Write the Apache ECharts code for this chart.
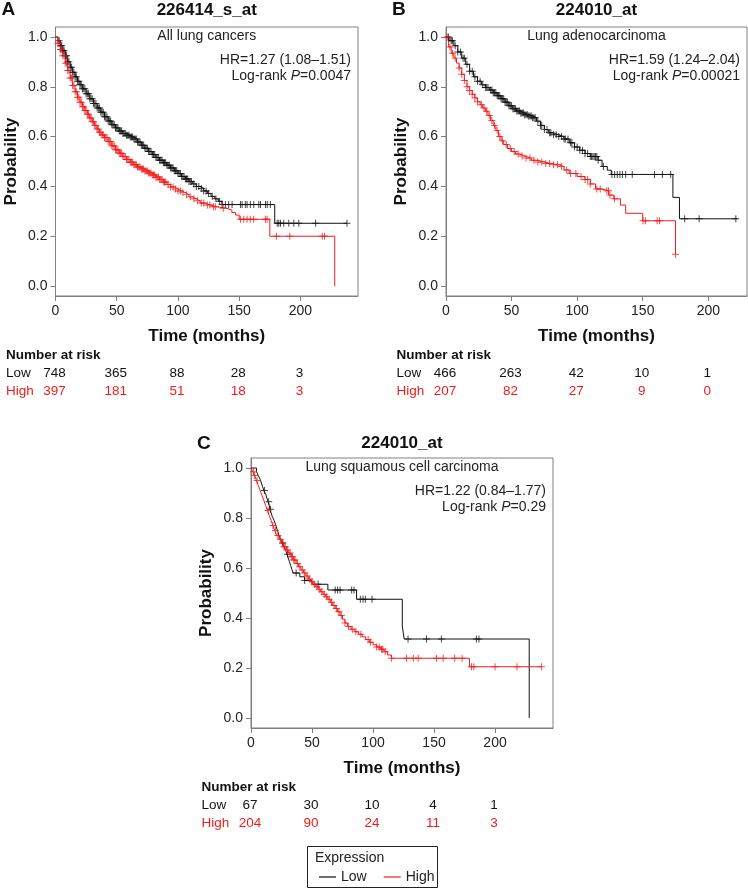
<!DOCTYPE html>
<html><head><meta charset="utf-8">
<script src="https://cdn.jsdelivr.net/npm/echarts@6/dist/echarts.min.js"></script>
<style>html,body{margin:0;padding:0;background:#fff}#c{width:748px;height:889px}</style>
</head><body><div id="c"></div><script>
// ---------------- data ----------------
const timeTicks = [0, 50, 100, 150, 200];
const probTicks = [0, 0.2, 0.4, 0.6, 0.8, 1.0];
const panelLetters = ['A', 'B', 'C'];
const panelTitles = ['226414_s_at', '224010_at', '224010_at'];
const cohorts = ['All lung cancers', 'Lung adenocarcinoma', 'Lung squamous cell carcinoma'];
const hrTexts = ['HR=1.27 (1.08\u20131.51)', 'HR=1.59 (1.24\u20132.04)', 'HR=1.22 (0.84\u20131.77)'];
const pValues = ['0.0047', '0.00021', '0.29'];
const groupNames = ['Low', 'High'];

const riskLowA = [748, 365, 88, 28, 3];
const riskHighA = [397, 181, 51, 18, 3];
const riskLowB = [466, 263, 42, 10, 1];
const riskHighB = [207, 82, 27, 9, 0];
const riskLowC = [67, 30, 10, 4, 1];
const riskHighC = [204, 90, 24, 11, 3];

// Kaplan-Meier steps: [time (months), survival probability from that time on]
const kmLowA = [[0,1],[2,0.985],[4,0.965],[6,0.945],[8,0.925],[10,0.9],[12,0.878],[14,0.858],[16,0.84],[18,0.822],[20,0.808],[22,0.792],[25,0.772],[28,0.752],[31,0.733],[34,0.715],[37,0.698],[40,0.68],[43,0.663],[46,0.648],[49,0.635],[52,0.622],[55,0.612],[58,0.605],[61,0.598],[64,0.59],[67,0.578],[70,0.565],[73,0.553],[76,0.54],[79,0.528],[82,0.516],[85,0.505],[88,0.495],[91,0.485],[94,0.474],[97,0.463],[100,0.452],[103,0.44],[106,0.43],[109,0.42],[112,0.41],[115,0.4],[118,0.392],[121,0.382],[124,0.372],[127,0.36],[130,0.35],[133,0.34],[136,0.327],[179,0.252],[238,0.252]];
const kmHighA = [[0,1],[2,0.975],[4,0.95],[6,0.925],[8,0.895],[10,0.865],[12,0.835],[14,0.805],[16,0.78],[18,0.758],[20,0.738],[22,0.72],[24,0.705],[26,0.69],[28,0.675],[30,0.66],[32,0.645],[34,0.63],[36,0.617],[38,0.606],[40,0.596],[43,0.58],[46,0.563],[49,0.547],[52,0.533],[55,0.52],[58,0.508],[61,0.497],[64,0.487],[67,0.478],[70,0.47],[73,0.462],[76,0.454],[79,0.446],[82,0.437],[85,0.428],[88,0.418],[91,0.408],[94,0.398],[97,0.39],[100,0.382],[103,0.375],[106,0.367],[109,0.358],[112,0.35],[115,0.342],[118,0.333],[122,0.325],[127,0.318],[132,0.312],[140,0.305],[144,0.295],[147,0.285],[150,0.268],[175,0.2],[228,0]];
const kmLowB = [[0,1],[3,0.985],[6,0.965],[9,0.94],[12,0.915],[15,0.89],[18,0.862],[21,0.84],[24,0.822],[27,0.808],[30,0.797],[33,0.787],[36,0.776],[39,0.764],[42,0.752],[45,0.738],[48,0.724],[51,0.712],[54,0.703],[57,0.695],[60,0.688],[63,0.683],[66,0.676],[69,0.662],[72,0.645],[75,0.628],[78,0.615],[82,0.607],[86,0.6],[90,0.59],[94,0.575],[98,0.558],[102,0.545],[106,0.532],[110,0.52],[116,0.505],[119,0.48],[123,0.465],[126,0.448],[173,0.356],[178,0.27],[222,0.27]];
const kmHighB = [[0,1],[2,0.96],[4,0.935],[6,0.915],[8,0.895],[10,0.875],[12,0.85],[14,0.825],[16,0.8],[18,0.785],[20,0.77],[22,0.755],[24,0.74],[26,0.728],[28,0.715],[30,0.702],[32,0.685],[34,0.665],[36,0.645],[38,0.625],[40,0.6],[42,0.583],[44,0.568],[47,0.552],[50,0.54],[53,0.53],[56,0.522],[60,0.514],[65,0.505],[70,0.498],[75,0.492],[80,0.487],[86,0.48],[90,0.466],[94,0.452],[100,0.44],[106,0.428],[110,0.41],[114,0.39],[118,0.383],[124,0.365],[128,0.35],[133,0.325],[137,0.292],[150,0.262],[175,0.128]];
const kmLowC = [[0,1],[4.5,0.985],[6,0.97],[7.5,0.955],[8.5,0.94],[9.5,0.925],[10.5,0.91],[12,0.895],[13,0.88],[14,0.865],[15,0.85],[15.5,0.835],[16.5,0.82],[17.5,0.805],[19,0.79],[20,0.775],[21,0.76],[22,0.745],[23,0.73],[24,0.715],[25.5,0.7],[27,0.685],[28.5,0.67],[29.5,0.655],[30.5,0.64],[31.5,0.625],[32.5,0.61],[33.5,0.595],[34.5,0.58],[40,0.565],[44,0.55],[50,0.535],[63,0.512],[86.5,0.475],[124,0.368],[125.5,0.316],[228,0]];
const kmHighC = [[0,1],[1.5,0.985],[3,0.97],[4.5,0.95],[6,0.93],[7.5,0.91],[9,0.89],[10.5,0.87],[12,0.85],[13.5,0.83],[15,0.81],[16.5,0.79],[18,0.77],[19.5,0.75],[21,0.73],[23,0.715],[25,0.7],[27,0.685],[29,0.672],[31,0.66],[33,0.645],[35,0.632],[37,0.618],[39,0.605],[41,0.592],[43,0.58],[45,0.568],[47,0.556],[49,0.545],[51,0.535],[53,0.525],[55,0.515],[57,0.505],[59,0.495],[61,0.485],[63,0.475],[65,0.463],[67,0.45],[69,0.438],[71,0.425],[73,0.41],[75,0.395],[77,0.38],[79,0.366],[82,0.355],[85,0.345],[88,0.335],[91,0.325],[94,0.314],[97,0.303],[100,0.293],[103,0.284],[106,0.275],[109,0.265],[112,0.252],[115,0.239],[179,0.205],[238,0.205]];

// censoring times (months)
const censorLowA = [3,4,5,6,7,8,9,10,11,12,13,14,15,16,17,18,19,20,21,22,23,24,25,26,27,28,29,30,31,32,33,34,35,36,37,38,39,40,41,42,43,44,45,46,47,48,49,50,51,52,53,54,55,56,57,58,59,60,61,62,63,64,65,66,67,68,69,70,71,72,73,74,75,76,77,78,79,80,81,82,83,84,85,86,87,88,89,90,91,92,93,94,95,96,97,98,99,100,101,102,103,104,105,106,107,108,109,110,111,113,115,117,119,121,123,125,128,131,134,136,138.7,141.4,144.2,151,152.4,155,156.4,159.1,161.9,166,167.4,171.5,172.9,175.4,181,182.3,183.7,186.4,190.5,194.6,198.7,212.4,238];
const censorHighA = [2,3,4,5,6,7,8,9,10,11,12,13,14,15,16,17,18,19,20,21,22,23,24,25,26,27,28,29,30,31,32,33,34,35,36,37,38,39,40,41,42,43,44,45,46,47,48,49,50,51,52,53,54,55,56,57,58,59,60,61,62,63,64,65,66,67,68,69,70,71,72,73,74,75,76,77,78,79,80,81,82,83,84,85,86,87,88,89,90,92,94,96,98,100,102,104,107,110,113,116,119,121,124,126,129,130.5,137,151,153.7,156.4,159,161.8,171.4,172.8,180.4,191.3,217.8,219.7];
const censorLowB = [2,4,5,7,9,11,13,14,16,18,20,22,24,26,28,30,31,32,34,35,36,37,38,39,40,41,42,43,44,45,46,47,48,49,50,51,52,53,54,55,56,57,58,59,60,61,62,63,64,65,66,67,68,70,72,73,75,77,79,80,82,84,86,88,90,91,93,95,96,98,100,102,104,106,108,110,111,112,113,114,115,116,120,126.5,128.6,130.6,132.6,134.5,137,142,159,165,171.3,182,193,221];
const censorHighB = [1,3,5,7,10,12,14,16,18,20,22,24,27,29,31,33,35,37,39,41,43,46,49,52,55,58,61,64,67,70,73,76,79,82,85,88,92,95,99,103,106,108,110,115,117.6,122.6,123.9,125,128.4,150.2,152,161,162.8,175];
const censorLowC = [11,14.5,16,26,30,37,44,55,69,71,73,82.5,84.4,89.6,91.8,93.7,99.2,128.7,143.8,156,184.7,186.8];
const censorHighC = [2,3,5,14,18,20,22,24,26,27,28,30,32,33,34,35,36,38,40,42,44,46,48,50,52,54,56,58,60,62,64,66,68,70,72,74,77,80,83,86,90,96,98,103,105,107,108,110,115,127.5,133,137,152,157.5,167,173,180.7,182.6,200,218,238];

// ---------------- layout / style ----------------
const FONT = '"Liberation Sans", Arial, Helvetica, sans-serif';
const RED = '#f01c1c';
const BLACK = '#111111';
const AXIS = '#808080';
const PLUS = 'path://M4.3,0H5.7V4.3H10V5.7H5.7V10H4.3V5.7H0V4.3H4.3Z';
const grids = [
  {left: 55.5, top: 27, width: 302.5, height: 269},
  {left: 446, top: 27, width: 301, height: 269},
  {left: 251, top: 458, width: 302, height: 270}
];
const xMaxes = [247, 229.5, 247.5];
const titleY = [10, 10, 443.5];

const panels = [
  {low: kmLowA, high: kmHighA, cLow: censorLowA, cHigh: censorHighA, rLow: riskLowA, rHigh: riskHighA},
  {low: kmLowB, high: kmHighB, cLow: censorLowB, cHigh: censorHighB, rLow: riskLowB, rHigh: riskHighB},
  {low: kmLowC, high: kmHighC, cLow: censorLowC, cHigh: censorHighC, rLow: riskLowC, rHigh: riskHighC}
];

function stepValue(curve, t) {
  let s = curve[0][1];
  for (const p of curve) { if (p[0] <= t) s = p[1]; else break; }
  return s;
}
function censorPoints(curve, times) { return times.map(t => [t, stepValue(curve, t)]); }

const chart = echarts.init(document.getElementById('c'), null, {renderer: 'canvas'});

const xAxes = [], yAxes = [], series = [];
panels.forEach((p, i) => {
  xAxes.push({
    type: 'value', gridIndex: i, min: 0, max: xMaxes[i],
    name: 'Time (months)', nameLocation: 'middle', nameGap: 32,
    nameTextStyle: {fontSize: 17, fontWeight: 'bold', color: BLACK, fontFamily: FONT},
    axisLine: {show: true, onZero: false, lineStyle: {color: AXIS, width: 1}},
    axisTick: {show: true, length: 5, customValues: timeTicks, lineStyle: {color: AXIS}},
    axisLabel: {customValues: timeTicks, formatter: v => String(v), fontSize: 14, color: '#222', margin: 8, fontFamily: FONT},
    splitLine: {show: false}
  });
  yAxes.push({
    type: 'value', gridIndex: i, min: -0.04, max: 1.04,
    name: 'Probability', nameLocation: 'middle', nameGap: 36,
    nameTextStyle: {fontSize: 17, fontWeight: 'bold', color: BLACK, fontFamily: FONT},
    axisLine: {show: true, onZero: false, lineStyle: {color: AXIS, width: 1}},
    axisTick: {show: true, length: 5, customValues: probTicks, lineStyle: {color: AXIS}},
    axisLabel: {customValues: probTicks, formatter: v => v.toFixed(1), fontSize: 14, color: '#222', margin: 8, fontFamily: FONT},
    splitLine: {show: false}
  });
  series.push({
    type: 'line', name: groupNames[0], xAxisIndex: i, yAxisIndex: i, data: p.low, step: 'end',
    symbol: 'none', lineStyle: {color: BLACK, width: 1}, itemStyle: {color: BLACK}, z: 2, silent: true
  });
  series.push({
    type: 'line', name: groupNames[1], xAxisIndex: i, yAxisIndex: i, data: p.high, step: 'end',
    symbol: 'none', lineStyle: {color: RED, width: 1}, itemStyle: {color: RED}, z: 3, silent: true
  });
  series.push({
    type: 'scatter', name: 'Low censored', xAxisIndex: i, yAxisIndex: i, data: censorPoints(p.low, p.cLow),
    symbol: PLUS, symbolSize: 7, itemStyle: {color: BLACK}, z: 4, silent: true
  });
  series.push({
    type: 'scatter', name: 'High censored', xAxisIndex: i, yAxisIndex: i, data: censorPoints(p.high, p.cHigh),
    symbol: PLUS, symbolSize: 7, itemStyle: {color: RED}, z: 5, silent: true
  });
});

chart.setOption({
  animation: false,
  textStyle: {fontFamily: FONT},
  grid: grids.map(g => Object.assign({show: true, borderColor: AXIS, borderWidth: 1, backgroundColor: 'transparent'}, g)),
  xAxis: xAxes,
  yAxis: yAxes,
  legend: {
    data: groupNames, left: 314, top: 865, icon: 'rect', itemWidth: 17, itemHeight: 1.2, itemGap: 17,
    selectedMode: false, textStyle: {fontSize: 14, color: '#222', fontFamily: FONT}
  },
  series: series
});

// ---------------- texts ----------------
const graphics = [];
function txt(x, y, text, opts) {
  const st = Object.assign({text: text, fontFamily: FONT, fontSize: 14, fill: BLACK,
    align: 'left', textAlign: 'left', verticalAlign: 'middle', textVerticalAlign: 'middle'}, opts || {});
  if (opts && opts.align) st.textAlign = opts.align;
  graphics.push({type: 'text', x: x, y: y, silent: true, style: st});
}
panels.forEach((p, i) => {
  const g = grids[i];
  const cx = g.left + g.width / 2, right = g.left + g.width, bottom = g.top + g.height;
  txt(g.left - 54, titleY[i], panelLetters[i], {fontSize: 19, fontWeight: 'bold'});
  txt(cx, titleY[i], panelTitles[i], {fontSize: 17, fontWeight: 'bold', align: 'center'});
  txt(cx, g.top + 9, cohorts[i], {fontSize: 14, align: 'center', fill: '#222'});
  txt(right - 7, g.top + 33, hrTexts[i], {fontSize: 14, align: 'right', fill: '#222'});
  graphics.push({type: 'text', x: right - 7, y: g.top + 49, silent: true, style: {
    text: '{n|Log-rank }{i|P}{n|=' + pValues[i] + '}',
    rich: {n: {fontSize: 14, fontFamily: FONT, fill: '#222', color: '#222'}, i: {fontSize: 14, fontFamily: FONT, fontStyle: 'italic', fill: '#222', color: '#222'}},
    fontSize: 14, fontFamily: FONT, fill: '#222',
    align: 'right', textAlign: 'right', verticalAlign: 'middle', textVerticalAlign: 'middle'}});
  const lx = g.left - 49.5;
  txt(lx, bottom + 59, 'Number at risk', {fontSize: 13.5, fontWeight: 'bold'});
  txt(lx, bottom + 77, groupNames[0], {fontSize: 13.5, fill: BLACK});
  txt(lx, bottom + 95.5, groupNames[1], {fontSize: 13.5, fill: RED});
  timeTicks.forEach((t, k) => {
    const px = chart.convertToPixel({xAxisIndex: i}, t);
    txt(px - 1, bottom + 77, String(p.rLow[k]), {fontSize: 13.5, align: 'center', fill: BLACK});
    txt(px - 1, bottom + 95.5, String(p.rHigh[k]), {fontSize: 13.5, align: 'center', fill: RED});
  });
});
// legend frame
graphics.push({type: 'rect', silent: true, shape: {x: 307.5, y: 846.5, width: 130, height: 41},
  style: {fill: 'none', stroke: '#222', lineWidth: 1}});
txt(315, 858.5, 'Expression', {fontSize: 14, fill: '#222'});

chart.setOption({graphic: graphics});
</script></body></html>
